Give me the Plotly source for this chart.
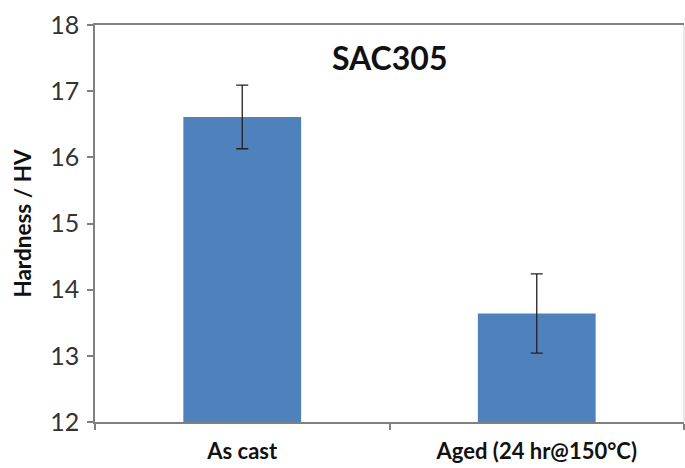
import plotly.graph_objects as go

categories = ["As cast", "Aged (24 hr@150°C)"]
hardness = [16.61, 13.64]
errors = [0.48, 0.60]
title_text = "SAC305"
y_title = "Hardness / HV"
y_ticks = [12, 13, 14, 15, 16, 17, 18]

FONT = "Lato"

fig = go.Figure()
fig.add_trace(go.Bar(
    x=categories,
    y=hardness,
    width=0.4,
    marker=dict(color="#4f81bd", line=dict(width=0)),
    error_y=dict(type="data", array=errors, visible=True,
                 color="#222222", thickness=1.3, width=6),
))

fig.update_layout(
    width=685, height=468,
    margin=dict(l=95, r=1, t=25, b=46, autoexpand=False),
    paper_bgcolor="white", plot_bgcolor="white",
    font=dict(family=FONT, color="#222222"),
    showlegend=False,
    annotations=[dict(text="<b>%s</b>" % title_text, x=0.5, y=0.917,
                      xref="paper", yref="paper", showarrow=False,
                      yanchor="middle",
                      font=dict(family=FONT, size=32, color="#111111"))],
    shapes=[dict(type="line", xref="paper", yref="paper", x0=1, x1=1, y0=0, y1=1,
                 line=dict(color="#d0d0d0", width=1))],
)
fig.update_xaxes(
    type="category", range=[-0.5, 1.5], automargin=False,
    tickvals=categories, ticktext=["<b>%s</b>" % c for c in categories],
    showline=True, linecolor="#808080", linewidth=1.5, mirror=True,
    ticks="outside", tickson="boundaries", ticklen=6, tickcolor="#808080", tickwidth=1.5,
    tickfont=dict(family=FONT, size=22, color="#111111"),
    ticklabelstandoff=9,
    showgrid=False,
)
fig.update_yaxes(
    range=[12, 18], tickvals=y_ticks, automargin=False,
    showline=True, linecolor="#808080", linewidth=1.5,
    ticks="outside", ticklen=6, tickcolor="#808080", tickwidth=1.5,
    tickfont=dict(family=FONT, size=25, color="#333333"),
    ticklabelstandoff=3,
    showgrid=False, zeroline=False,
    title=dict(text="<b>%s</b>" % y_title, font=dict(family=FONT, size=22.5, color="#111111"),
               standoff=12),
)

fig.write_html("out.html",
               config={"displayModeBar": False},
               post_script="document.body.style.margin='0';document.body.style.overflow='hidden';")
